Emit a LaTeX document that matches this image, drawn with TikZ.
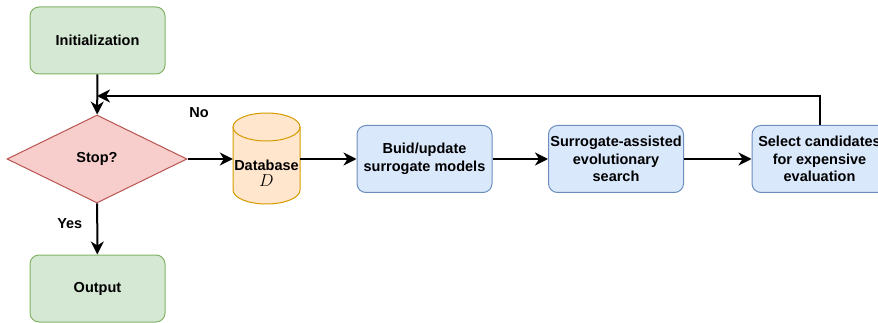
\documentclass[tikz,border=0pt]{standalone}
\usepackage{fontspec}
\setmainfont{Liberation Sans}
\usetikzlibrary{shapes.geometric,arrows.meta}
\definecolor{gfill}{HTML}{D5E8D4}
\definecolor{gline}{HTML}{82B366}
\definecolor{rfill}{HTML}{F8CECC}
\definecolor{rline}{HTML}{B85450}
\definecolor{ofill}{HTML}{FFE6CC}
\definecolor{oline}{HTML}{D79B00}
\definecolor{bfill}{HTML}{DAE8FC}
\definecolor{bline}{HTML}{6C8EBF}
\tikzset{
  lbl/.style={font=\fontsize{14.5}{17.5}\selectfont\bfseries, align=center, inner sep=0pt},
  gbox/.style={lbl, draw=gline, fill=gfill, line width=1pt, rounded corners=9pt,
    minimum width=135pt, minimum height=67pt},
  bbox/.style={lbl, draw=bline, fill=bfill, line width=1pt, rounded corners=9pt,
    minimum width=135pt, minimum height=67pt},
  decision/.style={lbl, diamond, draw=rline, fill=rfill, line width=1pt, aspect=2.045,
    minimum width=180pt, minimum height=88pt},
  flow/.style={line width=2pt, -{Stealth[length=13pt,width=13pt,inset=4pt]}},
}
\begin{document}
\begin{tikzpicture}[x=1pt,y=-1pt]
\useasboundingbox (0,0) rectangle (878,323);

\node[gbox] (init) at (97.5,40.5) {Initialization};
\node[gbox] (out) at (97.5,288.5) {Output};
\node[decision] (stop) at (97,159) {Stop?};

% database drawn as a cylinder around its label node
\node[lbl, minimum width=67pt, minimum height=91pt] (db) at (266.5,159) {};
\fill[ofill] (233,127) -- (233,190) arc[start angle=180,end angle=360,x radius=33.5pt,y radius=14pt]
  -- (300,127) arc[start angle=0,end angle=180,x radius=33.5pt,y radius=14pt] -- cycle;
\draw[oline, line width=1pt] (233,127) -- (233,190) arc[start angle=180,end angle=360,x radius=33.5pt,y radius=14pt]
  -- (300,127);
\draw[oline, line width=1pt] (266.5,127) ellipse[x radius=33.5pt,y radius=14pt];
\node[lbl] at (266.5,173) {Database\\[-1pt]\fontsize{16}{17.5}\selectfont$D$};

\node[bbox] (build) at (424.5,159) {Buid/update\\surrogate models};
\node[bbox] (search) at (616,159) {Surrogate-assisted\\evolutionary\\search};
\node[bbox] (select) at (819.5,159) {Select candidates\\for expensive\\evaluation};

\coordinate (fb) at (97,96);
\draw[flow] (init) -- (stop);
\draw[flow] (stop) -- node[lbl, pos=0.4, left=14pt] {Yes} (out);
\draw[flow] (stop.east) -- (db.west);
\draw[flow] (db.east) -- (build.west);
\draw[flow] (build) -- (search);
\draw[flow] (search) -- (select);
\draw[flow] (select.north) |- (fb);
\node[lbl] (no) at (199,113) {No};
\end{tikzpicture}
\end{document}
